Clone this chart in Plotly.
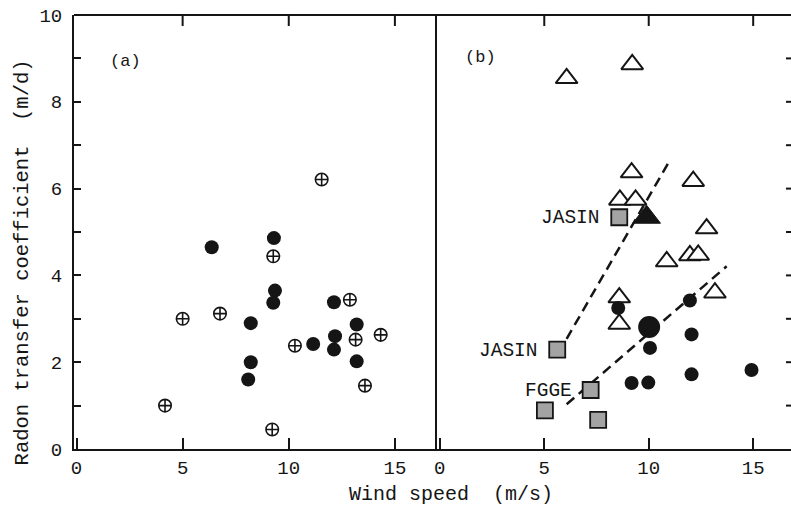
import plotly.graph_objects as go

# ---- Panel (a): radon transfer coefficient vs wind speed ----
a_filled_x = [6.37, 9.30, 9.35, 9.27, 12.13, 8.21, 13.20, 12.18, 11.15, 12.13, 8.21, 13.20, 8.09]
a_filled_y = [4.65, 4.86, 3.65, 3.37, 3.38, 2.90, 2.87, 2.60, 2.42, 2.29, 2.00, 2.02, 1.60]

a_cross_x = [11.55, 9.27, 12.88, 5.00, 6.76, 14.33, 13.15, 10.29, 13.59, 4.17, 9.22]
a_cross_y = [6.21, 4.44, 3.44, 3.00, 3.12, 2.63, 2.52, 2.38, 1.46, 1.00, 0.45]

# ---- Panel (b) ----
b_tri_x = [6.07, 9.21, 9.18, 12.13, 8.62, 9.37, 12.77, 10.86, 11.97, 12.37, 13.17, 8.59, 8.59]
b_tri_y = [8.54, 8.86, 6.37, 6.17, 5.74, 5.74, 5.08, 4.32, 4.46, 4.47, 3.60, 3.49, 2.88]

b_tri_filled_x = [9.90]
b_tri_filled_y = [5.34]

b_filled_x = [8.54, 11.97, 10.06, 12.05, 9.18, 9.98, 12.05, 14.92]
b_filled_y = [3.25, 3.42, 2.33, 2.64, 1.52, 1.53, 1.72, 1.82]

b_big_x = [10.02]
b_big_y = [2.81]

b_sq_x = [8.59, 5.62, 7.22, 5.03, 7.58]
b_sq_y = [5.34, 2.29, 1.36, 0.89, 0.67]
b_sq_labels = ["JASIN", "JASIN", "FGGE", "", ""]

# dashed trend lines (end points)
fit_upper_x = [6.07, 11.01]
fit_upper_y = [2.54, 6.65]
fit_lower_x = [6.07, 13.73]
fit_lower_y = [1.03, 4.21]

y_ticks = list(range(0, 11))
y_ticktext = [str(v) if v % 2 == 0 else "" for v in y_ticks]
x_ticks = [0, 5, 10, 15]
x_ticktext = ["0", "5", "10", "15"]

Y_RANGE = [0, 10]
XA_RANGE = [-0.118, 16.89]
XB_RANGE = [-0.23, 16.81]

INK = "#151515"
FONT = "Liberation Mono"

fig = go.Figure()

fig.add_trace(go.Scatter(
    x=a_filled_x, y=a_filled_y, mode="markers", xaxis="x", yaxis="y",
    marker=dict(symbol="circle", size=14, color=INK, line=dict(width=0)),
))
fig.add_trace(go.Scatter(
    x=a_cross_x, y=a_cross_y, mode="markers", xaxis="x", yaxis="y",
    marker=dict(symbol="circle-cross-open", size=12.5, color=INK, line=dict(width=1.6, color=INK)),
))

fig.add_trace(go.Scatter(
    x=fit_upper_x, y=fit_upper_y, mode="lines", xaxis="x2", yaxis="y2",
    line=dict(color=INK, width=2.5, dash="10px,6px"),
))
fig.add_trace(go.Scatter(
    x=fit_lower_x, y=fit_lower_y, mode="lines", xaxis="x2", yaxis="y2",
    line=dict(color=INK, width=2.5, dash="10px,6px"),
))
fig.add_trace(go.Scatter(
    x=b_tri_x, y=b_tri_y, mode="markers", xaxis="x2", yaxis="y2",
    marker=dict(symbol="triangle-up", size=19, color="white", line=dict(width=2, color=INK)),
))
fig.add_trace(go.Scatter(
    x=b_filled_x, y=b_filled_y, mode="markers", xaxis="x2", yaxis="y2",
    marker=dict(symbol="circle", size=14, color=INK, line=dict(width=0)),
))
fig.add_trace(go.Scatter(
    x=b_big_x, y=b_big_y, mode="markers", xaxis="x2", yaxis="y2",
    marker=dict(symbol="circle", size=22, color=INK, line=dict(width=0)),
))
fig.add_trace(go.Scatter(
    x=b_sq_x, y=b_sq_y, mode="markers", xaxis="x2", yaxis="y2",
    marker=dict(symbol="square", size=16, color="#a3a3a3", line=dict(width=1.8, color=INK)),
))
fig.add_trace(go.Scatter(
    x=b_tri_filled_x, y=b_tri_filled_y, mode="markers", xaxis="x2", yaxis="y2",
    marker=dict(symbol="triangle-up", size=24, color=INK, line=dict(width=1, color=INK)),
))

annotations = []
for sx, sy, lab in zip(b_sq_x, b_sq_y, b_sq_labels):
    if lab:
        annotations.append(dict(
            x=sx, y=sy, xref="x2", yref="y2", text=lab, showarrow=False,
            xanchor="right", yanchor="middle", xshift=-17, yshift=-1,
            font=dict(family=FONT, size=19.5, color=INK),
        ))
annotations += [
    dict(x=2.31, y=8.93, xref="x", yref="y", text="(a)", showarrow=False,
         font=dict(family=FONT, size=17, color=INK)),
    dict(x=1.97, y=9.02, xref="x2", yref="y2", text="(b)", showarrow=False,
         font=dict(family=FONT, size=17, color=INK)),
    dict(x=-0.0725, y=0.43, xref="paper", yref="paper", text="Radon transfer coefficient  (m/d)",
         textangle=-90, showarrow=False, xanchor="center", yanchor="middle",
         font=dict(family=FONT, size=20.5, color=INK)),
    dict(x=0.526, y=-0.105, xref="paper", yref="paper", text="Wind speed  (m/s)",
         showarrow=False, xanchor="center", yanchor="middle", borderpad=0,
         font=dict(family=FONT, size=20, color=INK)),
]

# frame: top border plus inward tick marks along the top and the far right
top_tick_len = 11 / 434 * (Y_RANGE[1] - Y_RANGE[0])
right_tick_len = 5 / 356 * (XB_RANGE[1] - XB_RANGE[0])
shapes = [dict(type="line", xref="paper", yref="paper", x0=0, x1=1, y0=1, y1=1,
               line=dict(color=INK, width=2))]
for xa, ya in (("x", "y"), ("x2", "y2")):
    for tv in x_ticks[1:]:
        shapes.append(dict(type="line", xref=xa, yref=ya, x0=tv, x1=tv,
                           y0=Y_RANGE[1], y1=Y_RANGE[1] - top_tick_len,
                           line=dict(color=INK, width=2)))
for tv in y_ticks[1:-1]:
    shapes.append(dict(type="line", xref="x2", yref="y2", y0=tv, y1=tv,
                       x0=XB_RANGE[1] - right_tick_len, x1=XB_RANGE[1],
                       line=dict(color=INK, width=2)))

x_common = dict(
    tickvals=x_ticks, ticktext=x_ticktext, ticks="inside", ticklen=11, tickwidth=2,
    tickcolor=INK, showline=True, linecolor=INK, linewidth=2, mirror=False,
    showgrid=False, zeroline=False,
    tickfont=dict(family=FONT, size=19, color=INK),
)

fig.update_layout(
    width=791, height=506,
    margin=dict(l=74, r=0, t=15, b=57),
    paper_bgcolor="white", plot_bgcolor="white",
    showlegend=False,
    xaxis=dict(domain=[0, 0.5035], range=XA_RANGE, anchor="y", **x_common),
    xaxis2=dict(domain=[0.5035, 1], range=XB_RANGE, anchor="y2", **x_common),
    yaxis=dict(
        range=Y_RANGE, tickvals=y_ticks, ticktext=y_ticktext, anchor="x",
        ticks="inside", ticklen=7, tickwidth=2, tickcolor=INK,
        showline=True, linecolor=INK, linewidth=2, mirror=True,
        showgrid=False, zeroline=False, ticklabelstandoff=6,
        tickfont=dict(family=FONT, size=19, color=INK),
    ),
    yaxis2=dict(
        range=Y_RANGE, anchor="x2", showline=False, showticklabels=False,
        ticks="", showgrid=False, zeroline=False,
    ),
    annotations=annotations,
    shapes=shapes,
)

fig.write_html("out.html")
